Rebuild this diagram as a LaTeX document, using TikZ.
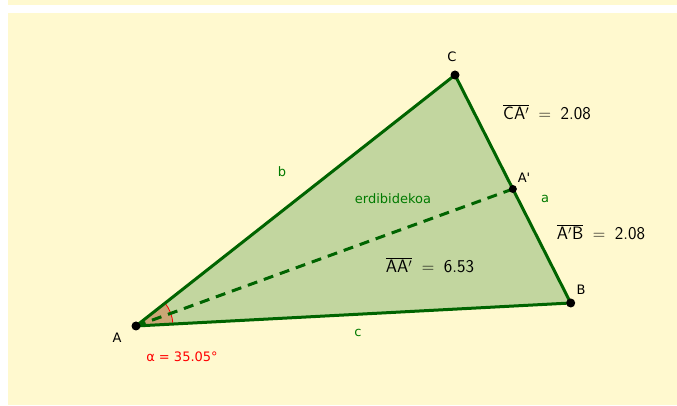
\documentclass[tikz,border=0pt]{standalone}
\usepackage{fontspec}
\setmainfont{DejaVu Sans}
\usepackage{tikz}
\usetikzlibrary{positioning, calc, angles}
\definecolor{paper}{HTML}{FFF9CF}
\definecolor{triFill}{HTML}{C2D69F}
\definecolor{triLine}{HTML}{006400}
\definecolor{lblGreen}{HTML}{007A00}
\definecolor{angFill}{HTML}{CBA676}

\begin{document}
\begin{tikzpicture}[
  x=1pt, y=1pt,
  side/.style={line width=3pt, triLine, line cap=round},
  median/.style={line width=3pt, triLine, dash pattern=on 10pt off 7pt},
  pt/.style={circle, fill=black, inner sep=0pt, minimum size=9pt},
  lbl/.style={font=\fontsize{13}{15}\selectfont, inner sep=0pt},
  glbl/.style={lbl, text=lblGreen},
  meas/.style={font=\fontsize{18}{21}\selectfont\sffamily, inner sep=0pt}
]
\useasboundingbox (0,0) rectangle (677,406);

% Background
\fill[paper] (8,401) rectangle (677,406);
\fill[paper] (8,1) rectangle (677,393);

% Vertices
\coordinate (A) at (136,80);
\coordinate (B) at (570.7,103);
\coordinate (C) at (455,331);
\coordinate (Am) at ($(C)!0.5!(B)$);

% Triangle and angle
\fill[triFill] (A) -- (B) -- (C) -- cycle;
\pic[fill=angFill, angle radius=37pt] {angle=B--A--C};
\pic[draw=red, line width=0.8pt, angle radius=37pt] {angle=B--A--C};

% Sides
\draw[side] (A) -- (B);
\draw[side] (B) -- (C);
\draw[side] (C) -- (A);

% Median
\draw[median] (A) -- (Am);

% Points
\node[pt] (pA) at (A) {};
\node[pt] (pB) at (B) {};
\node[pt] (pC) at (C) {};
\node[pt, minimum size=8pt] (pAm) at (Am) {};

% Labels
\node[lbl] (labC) at (452,349) {C};
\node[lbl] (labB) at (581,116) {B};
\node[lbl] (labA) at (117,68) {A};
\node[lbl] (labAm) at (524,228) {A\textquotesingle};
\node[glbl] (laba) at (545,207) {a};
\node[glbl] (labb) at (282,234) {b};
\node[glbl] (labc) at (358,73) {c};
\node[glbl] (labMed) at (393,207) {erdibidekoa};
\node[lbl, text=red] (labAlpha) at (182,49) {α = 35.05°};

% Measures
\node[meas] (mCA) at (547,294) {$\overline{\mathsf{CA'}}\;=\;\mathsf{2.08}$};
\node[meas] (mAB) at (601,174) {$\overline{\mathsf{A'B}}\;=\;\mathsf{2.08}$};
\node[meas] (mAA) at (430,141) {$\overline{\mathsf{AA'}}\;=\;\mathsf{6.53}$};

\end{tikzpicture}
\end{document}
